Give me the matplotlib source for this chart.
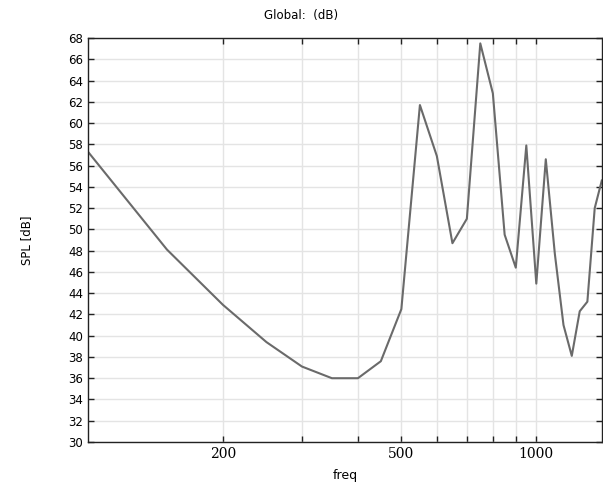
import matplotlib
matplotlib.use("Agg")
import matplotlib.pyplot as plt
from matplotlib.ticker import FixedLocator, NullFormatter

# frequency sweep (Hz) and sound pressure level (dB)
freq = [100, 150, 200, 250, 300, 350, 400, 450, 500, 550, 600, 650, 700,
        750, 800, 850, 900, 950, 1000, 1050, 1100, 1150, 1200, 1250, 1300,
        1350, 1400]
spl = [57.3, 48.1, 42.9, 39.4, 37.1, 36.0, 36.0, 37.6, 42.5, 61.7, 56.9,
       48.7, 51.0, 67.5, 62.8, 49.5, 46.4, 57.9, 44.9, 56.6, 47.7, 41.0,
       38.1, 42.3, 43.2, 52.0, 54.6]

major_x = [200, 500, 1000]
minor_x = [300, 400, 600, 700, 800, 900]
y_ticks = list(range(30, 69, 2))

fig = plt.figure(figsize=(6.03, 4.82), dpi=100)
ax = fig.add_axes([0.146, 0.083, 0.852, 0.838])

ax.plot(freq, spl, color="#6a6a6a", linewidth=1.5)

ax.set_xscale("log")
ax.set_xlim(100, 1400)
ax.set_ylim(30, 68)
ax.xaxis.set_major_locator(FixedLocator(major_x))
ax.xaxis.set_minor_locator(FixedLocator(minor_x))
ax.xaxis.set_minor_formatter(NullFormatter())
ax.set_xticklabels([str(v) for v in major_x], family="DejaVu Serif", fontsize=10)
ax.set_yticks(y_ticks)
ax.tick_params(axis="y", labelsize=8.5)

ax.tick_params(which="both", direction="in", top=True, right=True,
               length=4, width=1, color="#222222")
ax.grid(True, which="both", color="#e4e4e4", linewidth=1)
ax.set_axisbelow(True)
for s in ax.spines.values():
    s.set_color("#222222")
    s.set_linewidth(1)

ax.set_xlabel("freq", fontsize=9, labelpad=6)
ax.set_ylabel("SPL [dB]", fontsize=8.5, labelpad=25)
fig.text(0.5, 0.967, "Global:  (dB)", ha="center", va="center", fontsize=8.5)

fig.savefig("out.png", dpi=100)
